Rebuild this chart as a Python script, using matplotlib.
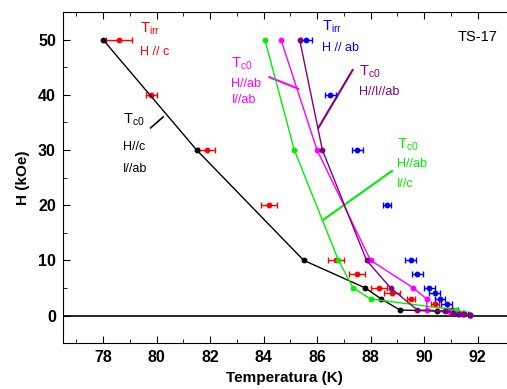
import numpy as np
import matplotlib.pyplot as plt

plt.rcParams['font.family'] = ['Liberation Sans', 'DejaVu Sans']

# Tc0, H//c, I//ab (black)
t_blk = [78.0, 81.5, 85.5, 87.8, 88.4, 89.1, 90.5, 91.3, 91.7]
h_blk = [50, 30, 10, 5, 3, 1, 0.8, 0.4, 0.1]
# Tc0, H//ab, I//c (green)
t_grn = [84.05, 85.15, 86.8, 87.35, 88.0, 91.2, 91.5, 91.7]
h_grn = [50, 30, 10, 5, 3, 1, 0.4, 0.1]
# Tc0, H//ab, I//ab (magenta)
t_mag = [84.65, 86.0, 88.0, 89.6, 90.1, 90.1, 91.0, 91.4, 91.7]
h_mag = [50, 30, 10, 5, 3, 1, 0.7, 0.3, 0.1]
# Tc0, H//I//ab (purple)
t_pur = [85.35, 86.2, 87.85, 88.75, 89.75, 90.8, 91.1, 91.3, 91.5, 91.7]
h_pur = [50, 30, 10, 5, 1, 0.8, 0.5, 0.3, 0.2, 0.1]
# Tirr, H//c (red)
t_red = [78.6, 79.8, 81.9, 84.2, 86.7, 87.5, 88.3, 88.8, 89.5, 90.4, 90.9, 91.1]
h_red = [50, 40, 30, 20, 10, 7.5, 5, 4, 3, 2, 1, 0.5]
e_red = [0.5, 0.2, 0.3, 0.3, 0.3, 0.3, 0.3, 0.3, 0.15, 0.15, 0.15, 0.15]
# Tirr, H//ab (blue)
t_blu = [85.6, 86.5, 87.5, 88.6, 89.5, 89.75, 90.2, 90.4, 90.6, 90.85, 91.05, 91.25, 91.45]
h_blu = [50, 40, 30, 20, 10, 7.5, 5, 4, 3, 2, 1, 0.5, 0.3]
e_blu = [0.2, 0.2, 0.2, 0.15, 0.2, 0.2, 0.2, 0.2, 0.2, 0.2, 0.2, 0.2, 0.2]

fig = plt.figure(figsize=(5.07, 3.89), dpi=100)
ax = fig.add_axes([0.124, 0.118, 0.876, 0.851])

ax.axhline(0, color='black', lw=1.2, zorder=1)

ax.errorbar(t_red, h_red, xerr=e_red, fmt='o', color='red', ms=3.2,
            elinewidth=1, capsize=2.5, zorder=3)
ax.errorbar(t_blu, h_blu, xerr=e_blu, fmt='o', color='blue', ms=3.2,
            elinewidth=1, capsize=2.5, zorder=3)
ax.plot(t_blk, h_blk, '-o', color='black', lw=1, ms=3.2, zorder=4)
ax.plot(t_grn, h_grn, '-o', color='#00ee00', lw=1, ms=3.2, zorder=4)
ax.plot(t_mag, h_mag, '-o', color='magenta', lw=1, ms=3.2, zorder=4)
ax.plot(t_pur, h_pur, '-o', color='purple', lw=1, ms=3.2, zorder=5)

# pointer lines from labels to curves
ax.plot([79.78, 80.25], [34.0, 36.0], color='black', lw=1.2)
ax.plot([84.22, 85.3], [43.2, 41.1], color='magenta', lw=1.5)
ax.plot([87.33, 86.05], [44.5, 34.0], color='purple', lw=1.5)
ax.plot([88.8, 86.22], [26.2, 17.3], color='#00ee00', lw=1.5)

fs = 9
ft = 10.5
ax.text(79.4, 52.0, r'T$_{\mathregular{irr}}$', color='red', fontsize=ft, va='center')
ax.text(79.4, 47.8, 'H // c', color='red', fontsize=fs, va='center')
ax.text(78.75, 35.5, r'T$_{\mathregular{c0}}$', color='black', fontsize=ft, va='center')
ax.text(78.75, 30.6, 'H//c', color='black', fontsize=fs, va='center')
ax.text(78.75, 26.5, 'I//ab', color='black', fontsize=fs, va='center')
ax.text(82.8, 45.7, r'T$_{\mathregular{c0}}$', color='magenta', fontsize=ft, va='center')
ax.text(82.8, 41.9, 'H//ab', color='magenta', fontsize=fs, va='center')
ax.text(82.8, 39.0, 'I//ab', color='magenta', fontsize=fs, va='center')
ax.text(87.55, 44.2, r'T$_{\mathregular{c0}}$', color='purple', fontsize=ft, va='center')
ax.text(87.55, 40.6, 'H//I//ab', color='purple', fontsize=fs, va='center')
ax.text(86.2, 52.3, r'T$_{\mathregular{irr}}$', color='blue', fontsize=ft, va='center')
ax.text(86.2, 48.4, 'H // ab', color='blue', fontsize=fs, va='center')
ax.text(89.0, 31.0, r'T$_{\mathregular{c0}}$', color='#00ee00', fontsize=ft, va='center')
ax.text(89.0, 27.4, 'H//ab', color='#00ee00', fontsize=fs, va='center')
ax.text(89.0, 23.8, 'I//c', color='#00ee00', fontsize=fs, va='center')
ax.text(91.25, 50.5, 'TS-17', color='black', fontsize=10.5, va='center')

ax.set_xlim(76.5, 93.1)
ax.set_ylim(-5, 55)
ax.set_xticks(np.arange(78, 93, 2))
ax.set_xticks(np.arange(77, 93, 1), minor=True)
ax.set_yticks(np.arange(0, 51, 10))
ax.set_yticks(np.arange(5, 51, 10), minor=True)
ax.tick_params(which='both', direction='in', top=True, right=False)
ax.tick_params(which='major', length=5, labelsize=11.5, pad=5)
ax.tick_params(which='minor', length=3)
for lbl in ax.get_xticklabels() + ax.get_yticklabels():
    lbl.set_fontweight('bold')
ax.set_xlabel('Temperatura (K)', fontsize=11, fontweight='bold', labelpad=4)
ax.set_ylabel('H (kOe)', fontsize=11, fontweight='bold', labelpad=6)
ax.spines['right'].set_visible(False)

fig.savefig('out.png', dpi=100)
